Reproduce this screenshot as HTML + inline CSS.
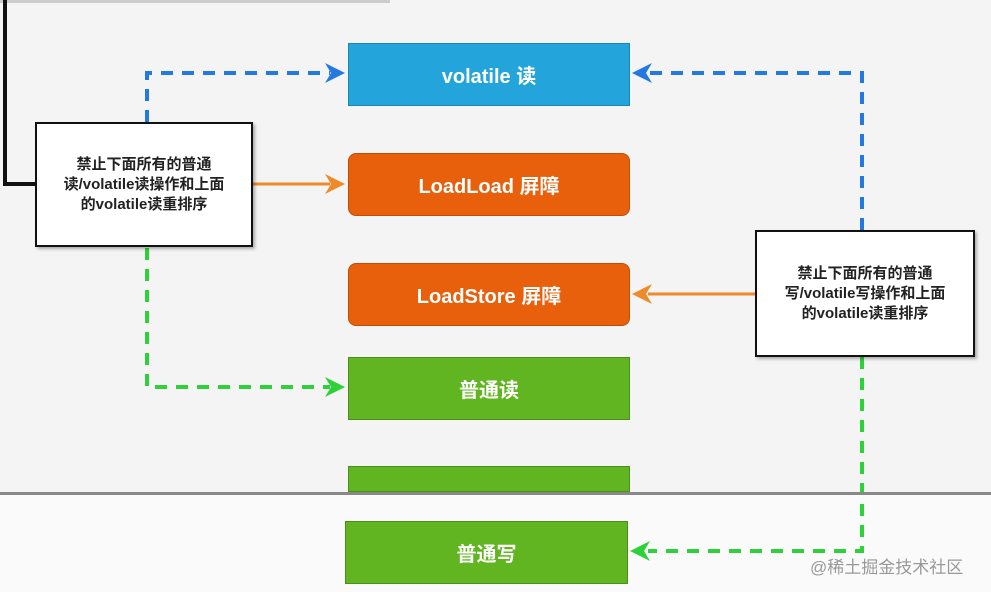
<!DOCTYPE html>
<html><head><meta charset="utf-8"><style>
body{margin:0;width:991px;height:592px;overflow:hidden;background:#f4f4f4;font-family:"Liberation Sans","Noto Sans CJK SC",sans-serif;position:relative}
.b{position:absolute;color:#fff;font-size:20px;font-weight:bold;display:flex;align-items:center;justify-content:center;box-sizing:border-box}
.n{position:absolute;background:#fff;border:2px solid #111;box-sizing:border-box;display:flex;align-items:center;justify-content:center;text-align:center;font-size:15px;font-weight:bold;color:#222;line-height:20px;box-shadow:2px 2px 3px rgba(0,0,0,.3)}
</style></head><body>
<div style="position:absolute;left:0;top:0;width:390px;height:3px;background:#ccc"></div>
<div style="position:absolute;left:0;top:494px;width:991px;height:98px;background:#fafafa"></div>
<svg width="991" height="592" style="position:absolute;left:0;top:0">
<path d="M5 0 V184 H40" stroke="#111" stroke-width="4" fill="none"/>
<g stroke-width="4" fill="none" stroke-dasharray="12,9">
<path d="M147 122 V73 H330" stroke="#2479e0"/>
<path d="M862 230 V73 H648" stroke="#2479e0"/>
<path d="M147 248 V387 H330" stroke="#2fd13a"/>
<path d="M862 357 V551 H648" stroke="#2fd13a"/>
</g>
<path d="M253 184 H330" stroke="#ee8a2a" stroke-width="3"/>
<path d="M755 294 H648" stroke="#ee8a2a" stroke-width="3"/>
<path d="M345 73 L325 63 L331 73 L325 83Z" fill="#2479e0"/>
<path d="M632 73 L652 63 L646 73 L652 83Z" fill="#2479e0"/>
<path d="M345 184 L325 174 L331 184 L325 194Z" fill="#ee8a2a"/>
<path d="M632 294 L652 284 L646 294 L652 304Z" fill="#ee8a2a"/>
<path d="M345 387 L325 377 L331 387 L325 397Z" fill="#2fd13a"/>
<path d="M630 551 L650 541 L644 551 L650 561Z" fill="#2fd13a"/>
<rect x="0" y="492" width="991" height="3" fill="#888"/>
</svg>
<div class="b" style="left:348px;top:43px;width:282px;height:63px;background:#23a5dc;border:1px solid #1a86b5">volatile 读</div>
<div class="b" style="left:348px;top:153px;width:282px;height:63px;background:#e8600c;border-radius:8px;border:1px solid #c04d08">LoadLoad 屏障</div>
<div class="b" style="left:348px;top:263px;width:282px;height:63px;background:#e8600c;border-radius:8px;border:1px solid #c04d08">LoadStore 屏障</div>
<div class="b" style="left:348px;top:357px;width:282px;height:63px;background:#60b520;border:1px solid #4a8f18">普通读</div>
<div class="b" style="left:348px;top:466px;width:282px;height:26px;background:#60b520;border:1px solid #4a8f18"></div>
<div class="b" style="left:345px;top:521px;width:283px;height:63px;background:#60b520;border:1px solid #4a8f18">普通写</div>
<div class="n" style="left:35px;top:122px;width:218px;height:125px">禁止下面所有的普通<br>读/volatile读操作和上面<br>的volatile读重排序</div>
<div class="n" style="left:755px;top:230px;width:220px;height:127px">禁止下面所有的普通<br>写/volatile写操作和上面<br>的volatile读重排序</div>
<div style="position:absolute;left:810px;top:553px;font-size:17px;color:#999">@稀土掘金技术社区</div>
</body></html>
